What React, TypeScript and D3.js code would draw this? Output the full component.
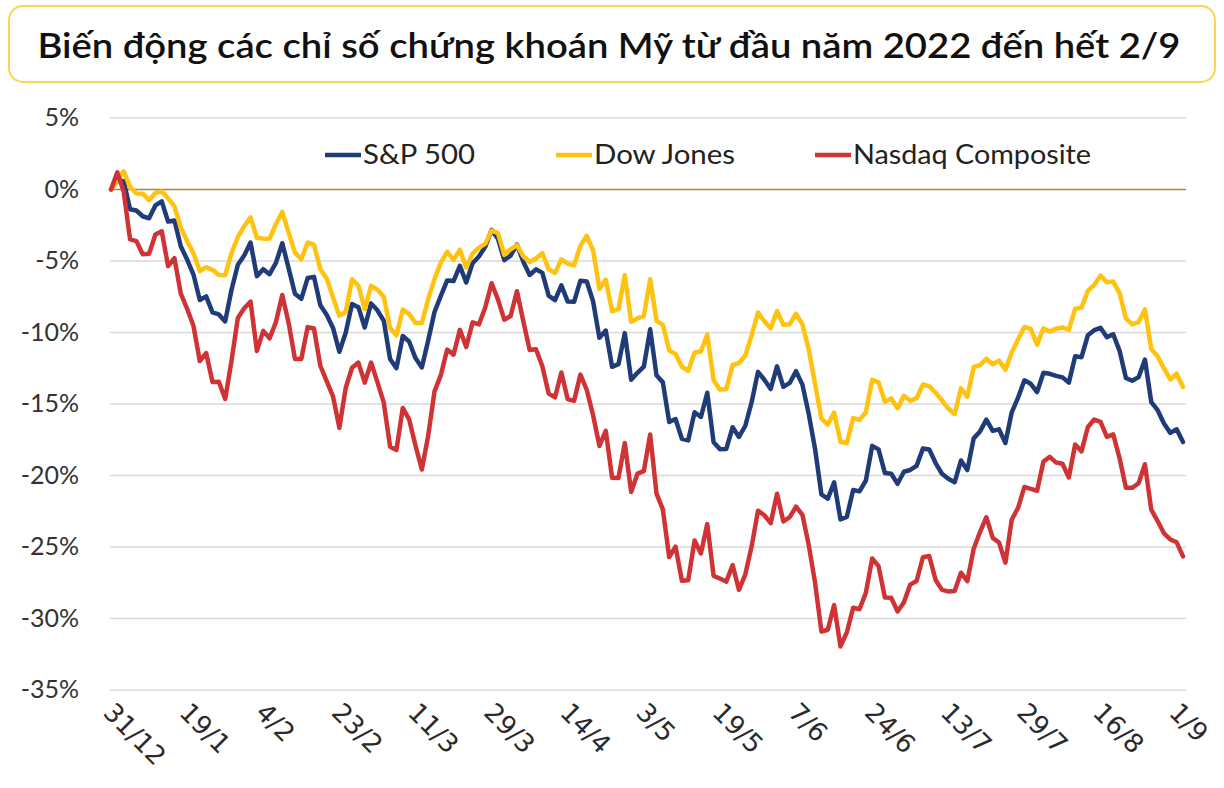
import React from 'react';
import * as d3 from 'd3';

const W = 1224;
const H = 788;

const titleText = 'Biến động các chỉ số chứng khoán Mỹ từ đầu năm 2022 đến hết 2/9';

// Tick labels shown on x axis (every 12 trading sessions)
const xTickLabels = ['31/12', '19/1', '4/2', '23/2', '11/3', '29/3', '14/4', '3/5', '19/5', '7/6', '24/6', '13/7', '29/7', '16/8', '1/9'];
const xTickStep = 12;

const yTicks = [5, 0, -5, -10, -15, -20, -25, -30, -35];

const seriesNames = ['S&P 500', 'Dow Jones', 'Nasdaq Composite'];
const seriesColors = ['#1f3b78', '#ffc20e', '#d03336'];

// Daily closing levels, 31/12/2021 -> 2/9/2022
const spClose = [
  4766.18,
  4796.56, 4793.54, 4700.58, 4696.05, 4677.03, 4670.29, 4713.07, 4726.35, 4659.03, 4662.85, 4577.11, 4532.76, 4482.73, 4397.94, 4410.13, 4356.45, 4349.93, 4326.51, 4431.85, 4515.55,
  4546.54, 4589.38, 4477.44, 4500.53, 4483.87, 4521.54, 4587.18, 4504.08, 4418.64, 4401.67, 4471.07, 4475.01, 4380.26, 4348.87, 4304.76, 4225.50, 4288.70, 4384.65, 4373.94,
  4306.26, 4386.54, 4363.49, 4328.87, 4201.09, 4170.70, 4277.88, 4259.52, 4204.31, 4173.11, 4262.45, 4357.86, 4411.67, 4463.12, 4461.18, 4511.61, 4456.24, 4520.16, 4543.06, 4575.52, 4631.60, 4602.45, 4530.41,
  4545.86, 4582.64, 4525.12, 4481.15, 4500.21, 4488.28, 4412.53, 4397.45, 4446.59, 4392.59, 4391.69, 4462.21, 4459.45, 4393.66, 4271.78, 4296.12, 4175.20, 4183.96, 4287.50, 4131.93,
  4155.38, 4175.48, 4300.17, 4146.87, 4123.34, 3991.24, 4001.05, 3935.18, 3930.08, 4023.89, 4008.01, 4088.85, 3923.68, 3900.79, 3901.36, 3973.75, 3941.48, 3978.73, 4057.84, 4158.24, 4132.15,
  4101.23, 4176.82, 4108.54, 4121.43, 4160.68, 4115.77, 4017.82, 3900.86, 3749.63, 3735.48, 3789.99, 3666.77, 3674.84, 3764.79, 3759.89, 3795.73, 3911.74, 3900.11, 3821.55, 3818.83, 3785.38,
  3825.33, 3831.39, 3845.08, 3902.62, 3899.38, 3854.43, 3818.80, 3801.78, 3790.38, 3863.16, 3830.85, 3936.69, 3959.90, 3998.95, 3961.63, 3966.84, 3921.05, 4023.61, 4072.43, 4130.29,
  4118.63, 4091.19, 4155.17, 4151.94, 4145.19, 4140.06, 4122.47, 4210.24, 4207.27, 4280.15, 4297.14, 4305.20, 4274.04, 4283.74, 4228.48, 4137.99, 4128.73, 4140.77, 4199.12, 4057.66, 4030.61, 3986.16, 3955.00,
  3966.85, 3924.26,
];

const dowClose = [
  36338.30,
  36585.06, 36799.65, 36407.11, 36236.47, 36231.66, 36068.87, 36252.02, 36290.32, 36113.62, 35911.81, 35368.47, 35028.65, 34715.39, 34265.37, 34364.50, 34297.73, 34168.09, 34160.78, 34725.47, 35131.86,
  35405.24, 35629.33, 35111.16, 35089.74, 35091.13, 35462.78, 35768.06, 35241.59, 34738.06, 34566.17, 34988.84, 34934.27, 34312.03, 34079.18, 33596.61, 33131.76, 33223.83, 34058.75, 33892.60,
  33294.95, 33891.35, 33794.66, 33614.80, 32817.38, 32632.64, 33286.25, 33174.07, 32944.19, 32945.24, 33544.34, 34063.10, 34480.76, 34754.93, 34552.99, 34807.46, 34358.50, 34707.94, 34861.24, 34955.89, 35294.19, 35228.81, 34678.35,
  34818.27, 34921.88, 34641.18, 34496.51, 34583.57, 34721.12, 34308.08, 34220.36, 34564.59, 34451.23, 34411.69, 34911.20, 35160.79, 34792.76, 33811.40, 34049.46, 33240.18, 33301.93, 34160.00, 32977.21,
  33061.50, 33128.79, 34061.06, 32997.97, 32899.37, 32245.70, 32160.74, 31834.11, 31730.30, 32196.66, 32223.42, 32654.59, 31490.07, 31253.13, 31261.90, 31880.24, 31928.62, 32120.28, 32637.19, 33212.96, 32990.12,
  32813.23, 33248.28, 32899.70, 32915.78, 33180.14, 32910.90, 32272.79, 31392.79, 30516.74, 30364.83, 30668.53, 29927.07, 29888.78, 30530.25, 30483.13, 30677.36, 31500.68, 31438.26, 30946.99, 31029.31, 30775.43,
  31097.26, 30967.82, 31037.68, 31384.55, 31338.15, 31173.84, 30981.33, 30772.79, 30630.17, 31288.26, 31072.61, 31827.05, 31874.84, 32036.90, 31899.29, 31990.04, 31761.54, 32197.59, 32529.63, 32845.13,
  32798.40, 32396.17, 32812.50, 32726.82, 32803.47, 32832.54, 32774.41, 33309.51, 33336.67, 33761.05, 33912.44, 34152.01, 33980.32, 33999.04, 33706.74, 33063.61, 32909.59, 32969.23, 33291.78, 32283.40, 32098.99, 31790.87, 31510.43,
  31656.42, 31318.44,
];

const nasdaqClose = [
  15644.97,
  15832.80, 15622.72, 15100.17, 15080.86, 14935.90, 14942.83, 15153.45, 15188.39, 14806.81, 14893.75, 14506.90, 14340.26, 14154.02, 13768.92, 13855.13, 13539.29, 13542.12, 13352.78, 13770.57, 14239.88,
  14346.00, 14417.55, 13878.82, 14098.01, 14015.67, 14194.45, 14490.37, 14185.64, 13791.15, 13790.92, 14139.76, 14124.09, 13716.72, 13548.07, 13381.52, 13037.49, 13473.59, 13694.62, 13751.40,
  13532.46, 13752.02, 13537.94, 13313.44, 12830.96, 12795.55, 13255.55, 13129.96, 12843.81, 12581.22, 12948.62, 13436.55, 13614.78, 13893.84, 13838.46, 14108.82, 13922.60, 14191.84, 14169.30, 14354.90, 14619.64, 14442.27, 14220.52,
  14261.50, 14532.55, 14204.17, 13888.82, 13897.30, 13711.00, 13411.96, 13371.57, 13643.59, 13351.08, 13332.36, 13619.66, 13453.07, 13174.65, 12839.29, 13004.85, 12490.74, 12488.93, 12871.53, 12334.64,
  12536.02, 12563.76, 12964.86, 12317.69, 12144.66, 11623.25, 11737.67, 11364.24, 11370.96, 11805.00, 11662.79, 11984.52, 11418.15, 11388.50, 11354.62, 11535.27, 11264.45, 11434.74, 11740.65, 12131.13, 12081.39,
  11994.46, 12316.90, 12012.73, 12061.37, 12175.23, 12086.27, 11754.23, 11340.02, 10809.23, 10828.35, 11099.15, 10646.10, 10798.35, 11069.30, 11053.08, 11232.19, 11607.62, 11524.55, 11181.54, 11177.89, 11028.74,
  11127.85, 11322.24, 11361.85, 11621.35, 11635.31, 11372.60, 11264.73, 11247.58, 11251.19, 11452.42, 11360.05, 11713.15, 11897.65, 12059.61, 11834.11, 11782.67, 11562.57, 12032.42, 12162.59, 12390.69,
  12368.98, 12348.76, 12668.16, 12720.58, 12657.55, 12644.46, 12493.93, 12854.80, 12779.91, 13047.19, 13128.05, 13102.55, 12938.12, 12965.34, 12705.22, 12381.57, 12381.30, 12431.53, 12639.27, 12141.71, 12017.67, 11883.14, 11816.20,
  11785.13, 11630.86,
];

const toPct = (arr: number[]) => arr.map((v) => (v / arr[0] - 1) * 100);

export default function App() {
  const series = [toPct(spClose), toPct(dowClose), toPct(nasdaqClose)];
  const n = spClose.length;

  const left = 111;
  const right = 1183;
  const top = 118;
  const bottom = 690;

  const x = d3.scaleLinear().domain([0, n - 1]).range([left, right]);
  const y = d3.scaleLinear().domain([-35, 5]).range([bottom, top]);

  const line = d3
    .line<number>()
    .x((_, i) => x(i))
    .y((d) => y(d));

  const legendItems = [
    { x0: 325, label: seriesNames[0], color: seriesColors[0], len: 112 },
    { x0: 556, label: seriesNames[1], color: seriesColors[1], len: 141 },
    { x0: 815, label: seriesNames[2], color: seriesColors[2], len: 238 },
  ];

  const sansFont = "Lato, 'Open Sans', sans-serif";

  return (
    <svg
      width={W}
      height={H}
      viewBox={`0 0 ${W} ${H}`}
      style={{ position: 'absolute', left: 0, top: 0, background: '#fff' }}
    >
      <rect x={0} y={0} width={W} height={H} fill="#fff" />
      {/* Title box */}
      <rect x={9} y={6} width={1206} height={76} rx={14} ry={14} fill="#fff" stroke="#ffd34f" strokeWidth={2} />
      <text
        x={609}
        y={58}
        textAnchor="middle"
        fontFamily={sansFont}
        fontWeight={600}
        fontSize={35}
        textLength={1143}
        lengthAdjust="spacingAndGlyphs"
        fill="#111"
      >
        {titleText}
      </text>

      {/* Gridlines */}
      {yTicks.map((t) => (
        <line
          key={t}
          x1={left - 1}
          x2={right + 3}
          y1={y(t)}
          y2={y(t)}
          stroke={t === 0 ? '#a38a2e' : '#d9d9d9'}
          strokeWidth={t === 0 ? 1.6 : 1.5}
        />
      ))}

      {/* Y labels */}
      {yTicks.map((t) => (
        <text
          key={'yl' + t}
          x={79}
          y={y(t) + 8}
          textAnchor="end"
          fontFamily={sansFont}
          fontSize={25}
          fill="#333"
        >
          {t + '%'}
        </text>
      ))}

      {/* X labels */}
      {xTickLabels.map((lab, i) => {
        const xi = x(i * xTickStep);
        return (
          <text
            key={'xl' + lab}
            transform={`translate(${xi - 9},${714}) rotate(45)`}
            textAnchor="start"
            fontFamily="'DejaVu Sans', sans-serif"
            fontSize={26}
            fill="#2a2a2a"
          >
            {lab}
          </text>
        );
      })}

      {/* Lines */}
      {series.map((s, k) => (
        <path
          key={'s' + k}
          d={line(s) || ''}
          fill="none"
          stroke={seriesColors[k]}
          strokeWidth={4.5}
          strokeLinejoin="round"
          strokeLinecap="round"
        />
      ))}

      {/* Legend */}
      {legendItems.map((it) => (
        <g key={it.label}>
          <line x1={it.x0} x2={it.x0 + 36} y1={155} y2={155} stroke={it.color} strokeWidth={4.5} />
          <text
            x={it.x0 + 38}
            y={164}
            fontFamily={sansFont}
            fontSize={26}
            textLength={it.len}
            lengthAdjust="spacingAndGlyphs"
            fill="#222"
          >
            {it.label}
          </text>
        </g>
      ))}
    </svg>
  );
}
